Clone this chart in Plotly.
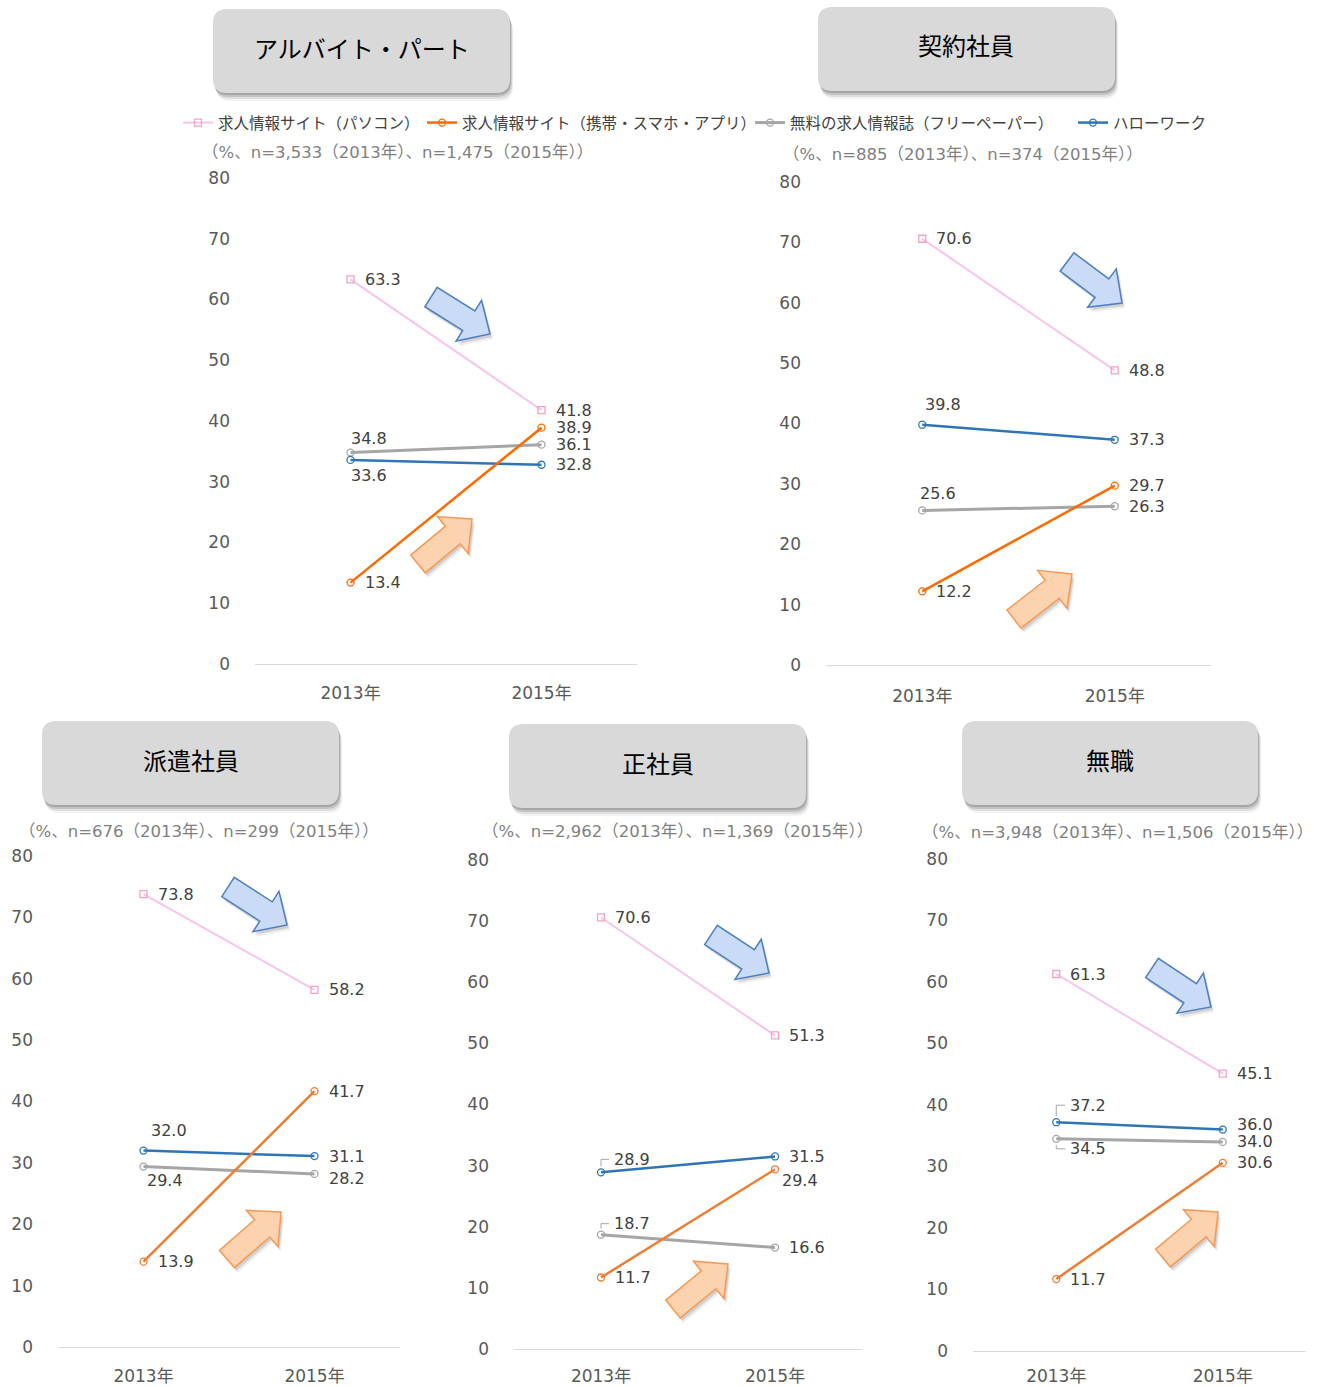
import math
import plotly.graph_objects as go

W, H = 1317, 1387

# ---------------- data ----------------
years = ["2013年", "2015年"]
series_names = [
    "求人情報サイト（パソコン）",
    "求人情報サイト（携帯・スマホ・アプリ）",
    "無料の求人情報誌（フリーペーパー）",
    "ハローワーク",
]
panel_titles = ["アルバイト・パート", "契約社員", "派遣社員", "正社員", "無職"]
panel_notes = [
    "（%、n=3,533（2013年）、n=1,475（2015年））",
    "（%、n=885（2013年）、n=374（2015年））",
    "（%、n=676（2013年）、n=299（2015年））",
    "（%、n=2,962（2013年）、n=1,369（2015年））",
    "（%、n=3,948（2013年）、n=1,506（2015年））",
]
pc_values = [[63.3, 41.8], [70.6, 48.8], [73.8, 58.2], [70.6, 51.3], [61.3, 45.1]]
mobile_values = [[13.4, 38.9], [12.2, 29.7], [13.9, 41.7], [11.7, 29.4], [11.7, 30.6]]
free_values = [[34.8, 36.1], [25.6, 26.3], [29.4, 28.2], [18.7, 16.6], [34.5, 34.0]]
hellowork_values = [[33.6, 32.8], [39.8, 37.3], [32.0, 31.1], [28.9, 31.5], [37.2, 36.0]]
y_ticks = [0, 10, 20, 30, 40, 50, 60, 70, 80]

# ---------------- layout / styling ----------------
FONT = "DejaVu Sans, Noto Sans CJK JP, sans-serif"
JFONT = "Noto Sans CJK JP, DejaVu Sans, sans-serif"

# pixel boxes: x0, x1, y_bottom(0), y_top(80)
panels = [
    dict(x=(255, 637), y=(664, 178), xstand=14),
    dict(x=(826, 1211), y=(665, 182), xstand=16),
    dict(x=(58, 400), y=(1347, 856), xstand=14),
    dict(x=(514, 862), y=(1349, 860), xstand=12),
    dict(x=(973, 1306), y=(1351, 859), xstand=10),
]
title_boxes = [(213, 9, 510, 93), (818, 7, 1115, 91), (42, 721, 339, 805),
               (509, 724, 806, 808), (962, 721, 1258, 805)]
note_pos = [(397, 153), (963, 154), (199, 831), (677, 831), (1117, 832)]
legend_x = [178, 422, 750, 1073]  # left edge of each legend entry (px)

# label offsets (xshift, yshift) per panel per series per year
# order of series: pc, mobile, free, hellowork
R = (12, 0)
label_offsets = [
    [[R, R], [R, R], [(-2, 14), R], [(-2, -16), R]],
    [[R, R], [R, R], [(-4, 17), R], [(1, 20), R]],
    [[R, R], [R, R], [(1, -14), (12, -5)], [(5, 20), R]],
    [[R, R], [R, (5, -11)], [(11, 11), R], [(11, 13), R]],
    [[R, R], [R, R], [(12, -10), R], [(12, 17), (12, 5)]],
]
# labels that have a small leader line: (panel, series, year)
leaders = [(3, 2, 0), (3, 3, 0), (4, 2, 0), (4, 3, 0)]

pink_line = "#f7c3f0"
pink_marker = "#f5a3bd"
orange_a = "#ff6a00"
orange_b = "#ed7d31"
gray_c = "#a5a5a5"
blue_c = "#2e75b6"


def px(x):
    return x / W


def py(y):
    return 1 - y / H


fig = go.Figure()
annotations = []
shapes = []
legend_names = ["legend", "legend2", "legend3", "legend4"]
values_by_series = [pc_values, mobile_values, free_values, hellowork_values]

for i, p in enumerate(panels):
    k = "" if i == 0 else str(i + 1)
    xa, ya = "x" + k, "y" + k
    orange = orange_a if i < 2 else orange_b
    series = [
        (pc_values[i], pink_line, pink_marker, "square-open", 2, 0),
        (free_values[i], gray_c, gray_c, "circle-open", 3, 2),
        (hellowork_values[i], blue_c, blue_c, "circle-open", 2.5, 3),
        (mobile_values[i], orange, orange, "circle-open", 2.5, 1),
    ]
    for vals, lc, mc, sym, lw, nidx in series:
        fig.add_trace(go.Scatter(
            x=years, y=vals, xaxis=xa, yaxis=ya, mode="lines+markers",
            name=series_names[nidx], legend=legend_names[nidx],
            line=dict(color=lc, width=lw),
            marker=dict(symbol=sym, size=7, color=mc, line=dict(color=mc, width=1.3)),
            showlegend=(i == 0), hoverinfo="skip",
        ))
    for s, vals in enumerate(values_by_series):
        for j, v in enumerate(vals[i]):
            dx, dy = label_offsets[i][s][j]
            annotations.append(dict(
                x=years[j], y=v, xref=xa, yref=ya, text=f"{v:.1f}", showarrow=False,
                xanchor="left", yanchor="middle", xshift=dx, yshift=dy,
                font=dict(family=FONT, size=16, color="#404040"),
            ))
    xd = [px(p["x"][0]), px(p["x"][1])]
    yd = [py(p["y"][0]), py(p["y"][1])]
    fig.layout["xaxis" + k] = dict(
        domain=xd, anchor=ya, type="category", range=[-0.5, 1.5],
        showline=True, linecolor="#d9d9d9", linewidth=1, showgrid=False,
        ticks="", tickfont=dict(family=FONT, size=17, color="#595959"),
        ticklabelstandoff=p["xstand"], fixedrange=True, automargin=False,
    )
    fig.layout["yaxis" + k] = dict(
        domain=yd, anchor=xa, range=[0, 80], tickvals=y_ticks,
        showgrid=False, zeroline=False, showline=False, ticks="",
        tickfont=dict(family=FONT, size=17, color="#595959"),
        ticklabelstandoff=24, fixedrange=True, automargin=False,
    )
    # note
    nx, ny = note_pos[i]
    annotations.append(dict(
        x=px(nx), y=py(ny), xref="paper", yref="paper", text=panel_notes[i],
        showarrow=False, xanchor="center", yanchor="middle",
        font=dict(family=FONT, size=16.5, color="#7f7f7f"),
    ))

# small leader lines from points to shifted labels (positions derived from data values)
for (i, s, j) in leaders:
    p = panels[i]
    v = values_by_series[s][i][j]
    x0p, x1p = p["x"]
    yb, yt = p["y"]
    xp = x0p + (x1p - x0p) * (0.25 + 0.5 * j)
    yp = yb - (yb - yt) * v / 80.0
    dx, dy = label_offsets[i][s][j]
    ly = yp - dy
    sgn = -1 if dy > 0 else 1
    path = (f"M {px(xp)},{py(yp + sgn * 6)} L {px(xp)},{py(ly)} "
            f"L {px(xp + dx - 3)},{py(ly)}")
    shapes.append(dict(type="path", xref="paper", yref="paper", path=path,
                       line=dict(color="#a6a6a6", width=1)))


def rrect(x0, y0, x1, y1, r):
    path = (f"M {px(x0 + r)},{py(y0)} L {px(x1 - r)},{py(y0)} "
            f"Q {px(x1)},{py(y0)} {px(x1)},{py(y0 + r)} L {px(x1)},{py(y1 - r)} "
            f"Q {px(x1)},{py(y1)} {px(x1 - r)},{py(y1)} L {px(x0 + r)},{py(y1)} "
            f"Q {px(x0)},{py(y1)} {px(x0)},{py(y1 - r)} L {px(x0)},{py(y0 + r)} "
            f"Q {px(x0)},{py(y0)} {px(x0 + r)},{py(y0)} Z")
    return path


for i, (x0, y0, x1, y1) in enumerate(title_boxes):
    for off, alpha in [(8, 0.05), (6, 0.08), (4, 0.12), (2, 0.15)]:
        shapes.append(dict(type="path", xref="paper", yref="paper",
                           path=rrect(x0 + off * 0.4, y0 + off, x1 + off * 0.4, y1 + off, 14),
                           fillcolor=f"rgba(0,0,0,{alpha})", line=dict(width=0), layer="below"))
    shapes.append(dict(type="path", xref="paper", yref="paper", path=rrect(x0, y0, x1, y1, 14),
                       fillcolor="#d9d9d9", line=dict(width=0), layer="below"))
    annotations.append(dict(
        x=px((x0 + x1) / 2), y=py((y0 + y1) / 2), xref="paper", yref="paper",
        text=panel_titles[i], showarrow=False, xanchor="center", yanchor="middle",
        yshift=4, font=dict(family=JFONT, size=24, color="#000000"),
    ))


def arrow_path(tail, tip, ws=23, wh=48, hl=25, dx=0, dy=0):
    tx, ty = tail[0] + dx, tail[1] + dy
    px_, py_ = tip[0] + dx, tip[1] + dy
    L = math.hypot(px_ - tx, py_ - ty)
    ux, uy = (px_ - tx) / L, (py_ - ty) / L
    nx, ny = -uy, ux
    bx, by = tx + ux * (L - hl), ty + uy * (L - hl)
    pts = [
        (tx + nx * ws / 2, ty + ny * ws / 2),
        (bx + nx * ws / 2, by + ny * ws / 2),
        (bx + nx * wh / 2, by + ny * wh / 2),
        (px_, py_),
        (bx - nx * wh / 2, by - ny * wh / 2),
        (bx - nx * ws / 2, by - ny * ws / 2),
        (tx - nx * ws / 2, ty - ny * ws / 2),
    ]
    return "M " + " L ".join(f"{px(a)},{py(b)}" for a, b in pts) + " Z"


blue_arrows = [((431, 297), (490, 334)), ((1067, 262), (1122, 303)), ((228, 887), (287, 925)),
               ((711, 935), (769, 973)), ((1152, 968), (1211, 1007))]
orange_arrows = [((418, 564), (472, 519)), ((1014, 619), (1072, 574)), ((227, 1259), (281, 1212)),
                 ((673, 1309), (728, 1264)), ((1163, 1258), (1218, 1212))]

for arrows, fill, edge in [(blue_arrows, "#c9dbf7", "#4f7fc0"), (orange_arrows, "#fdd2ae", "#f59a55")]:
    for tail, tip in arrows:
        for off, alpha in [(5, 0.07), (3, 0.12)]:
            shapes.append(dict(type="path", xref="paper", yref="paper",
                               path=arrow_path(tail, tip, dx=off * 0.6, dy=off),
                               fillcolor=f"rgba(0,0,0,{alpha})", line=dict(width=0)))
        shapes.append(dict(type="path", xref="paper", yref="paper",
                           path=arrow_path(tail, tip), fillcolor=fill,
                           line=dict(color=edge, width=1.5)))

legend_common = dict(orientation="h", yanchor="middle", xanchor="left", y=py(123),
                     font=dict(family=JFONT, size=15.5, color="#404040"),
                     itemwidth=30, bgcolor="rgba(0,0,0,0)")

fig.update_layout(
    width=W, height=H, autosize=False,
    margin=dict(l=0, r=0, t=0, b=0, pad=0, autoexpand=False),
    paper_bgcolor="white", plot_bgcolor="white",
    font=dict(family=FONT, color="#404040"),
    showlegend=True,
    annotations=annotations, shapes=shapes, hovermode=False,
)
for n, lx in zip(legend_names, legend_x):
    fig.layout[n] = dict(x=px(lx), **legend_common)

fig.write_html("out.html")
